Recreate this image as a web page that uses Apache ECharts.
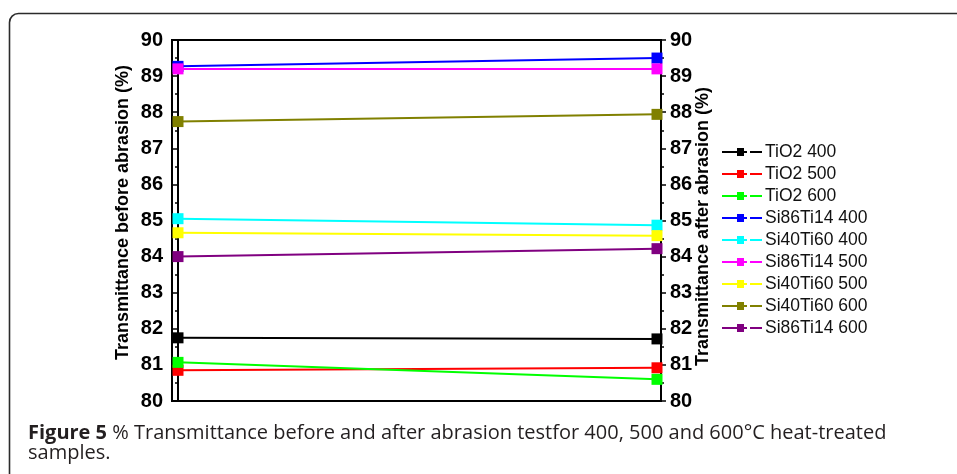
<!DOCTYPE html>
<html>
<head>
<meta charset="utf-8">
<title>Transmittance before and after abrasion</title>
<script src="https://cdn.jsdelivr.net/npm/echarts@6/dist/echarts.min.js"></script>
<style>
  html, body { margin: 0; padding: 0; background: #fff; }
  #chart { width: 957px; height: 474px; }
</style>
</head>
<body>
<div id="chart"></div>
<script>
// ── Data ───────────────────────────────────────
// one line per sample: value before abrasion (left) -> after abrasion (right)
const sampleNames = ['TiO2 400', 'TiO2 500', 'TiO2 600', 'Si86Ti14 400', 'Si40Ti60 400',
                     'Si86Ti14 500', 'Si40Ti60 500', 'Si40Ti60 600', 'Si86Ti14 600'];
const beforeAbrasion = [81.75, 80.85, 81.07, 89.27, 85.05, 89.2, 84.66, 87.74, 84.0];
const afterAbrasion  = [81.72, 80.92, 80.6, 89.5, 84.87, 89.2, 84.58, 87.94, 84.22];
const sampleColors = ['#000000', '#ff0000', '#00ff00', '#0000ff', '#00ffff',
                      '#ff00ff', '#ffff00', '#808000', '#800080'];
const yTicks = [80, 81, 82, 83, 84, 85, 86, 87, 88, 89, 90];

// ── Chart ──────────────────────────────────────
const chart = echarts.init(document.getElementById('chart'), null, { renderer: 'canvas' });

// Origin-style legend glyph: line - square - line, gap, line
const legendIcon = 'path://M0,3H15V5H0Z M15,0H22V8H15Z M22,3H25V5H22Z M28,3H40V5H28Z';

const tickFont = { fontFamily: 'Liberation Sans', fontWeight: 'bold', fontSize: 20, color: '#000' };
const nameFont = { fontFamily: 'Liberation Sans', fontWeight: 'bold', fontSize: 18, color: '#000' };

function yAxisFor(position, name, gap, padding) {
    return {
        type: 'value',
        position: position,
        min: yTicks[0],
        max: yTicks[yTicks.length - 1],
        interval: 1,
        name: name,
        nameLocation: 'middle',
        nameRotate: 90,
        nameGap: gap,
        nameMoveOverlap: false,
        nameTextStyle: Object.assign({ padding: padding }, nameFont),
        axisLine: { show: true, lineStyle: { color: '#000', width: 2 } },
        axisTick: { show: true, inside: false, length: 5, lineStyle: { color: '#000', width: 1.5 } },
        minorTick: { show: true, splitNumber: 2, length: 3, lineStyle: { color: '#000', width: 1.5 } },
        axisLabel: Object.assign({ margin: 9 }, tickFont),
        splitLine: { show: false }
    };
}

const series = sampleNames.map(function (name, i) {
    return {
        name: name,
        type: 'line',
        data: [[0, beforeAbrasion[i]], [1, afterAbrasion[i]]],
        symbol: 'rect',
        symbolSize: 11,
        showAllSymbol: true,
        lineStyle: { color: sampleColors[i], width: 2 },
        itemStyle: { color: sampleColors[i] },
        emphasis: { disabled: true },
        animation: false,
        z: 2 + i
    };
});

const option = {
    backgroundColor: '#fff',
    animation: false,
    grid: {
        left: 172, right: 296, top: 40, bottom: 73,
        show: true, borderColor: '#000', borderWidth: 2, backgroundColor: 'transparent'
    },
    xAxis: {
        type: 'value',
        min: -6 / 479,
        max: 1 + 4 / 479,
        axisLine: { show: true, lineStyle: { color: '#000', width: 2 } },
        axisTick: { show: false },
        axisLabel: { show: false },
        splitLine: { show: false }
    },
    yAxis: [
        yAxisFor('left', 'Transmittance before abrasion (%)', 40, [0, 0, 0, 16]),
        yAxisFor('right', 'Transmittance after abrasion (%)', 33, [0, 12, 0, 0])
    ],
    legend: {
        orient: 'vertical',
        left: 717,
        top: 138,
        icon: legendIcon,
        itemWidth: 40,
        itemHeight: 8,
        itemGap: 4,
        data: sampleNames,
        textStyle: { fontFamily: 'Liberation Sans', fontSize: 17.5, color: '#111', lineHeight: 18, padding: [0, 0, 0, -2] },
        selectedMode: false
    },
    title: {
        left: 23,
        top: 418,
        text: '{b|Figure 5} % Transmittance before and after abrasion testfor 400, 500 and 600°C heat-treated\nsamples.',
        textStyle: {
            fontFamily: 'Open Sans', fontWeight: 'normal', fontSize: 20, color: '#231f20', lineHeight: 20,
            rich: { b: { fontFamily: 'Open Sans', fontWeight: 'bold', fontSize: 20, color: '#231f20', lineHeight: 20 } }
        }
    },
    graphic: [{
        type: 'rect',
        silent: true,
        shape: { x: 9.5, y: 13.5, width: 1100, height: 1000, r: 9 },
        style: { fill: 'none', stroke: '#2b2b2b', lineWidth: 1.6 }
    }],
    series: series
};

chart.setOption(option);
window.addEventListener('resize', function () { chart.resize(); });
</script>
</body>
</html>
